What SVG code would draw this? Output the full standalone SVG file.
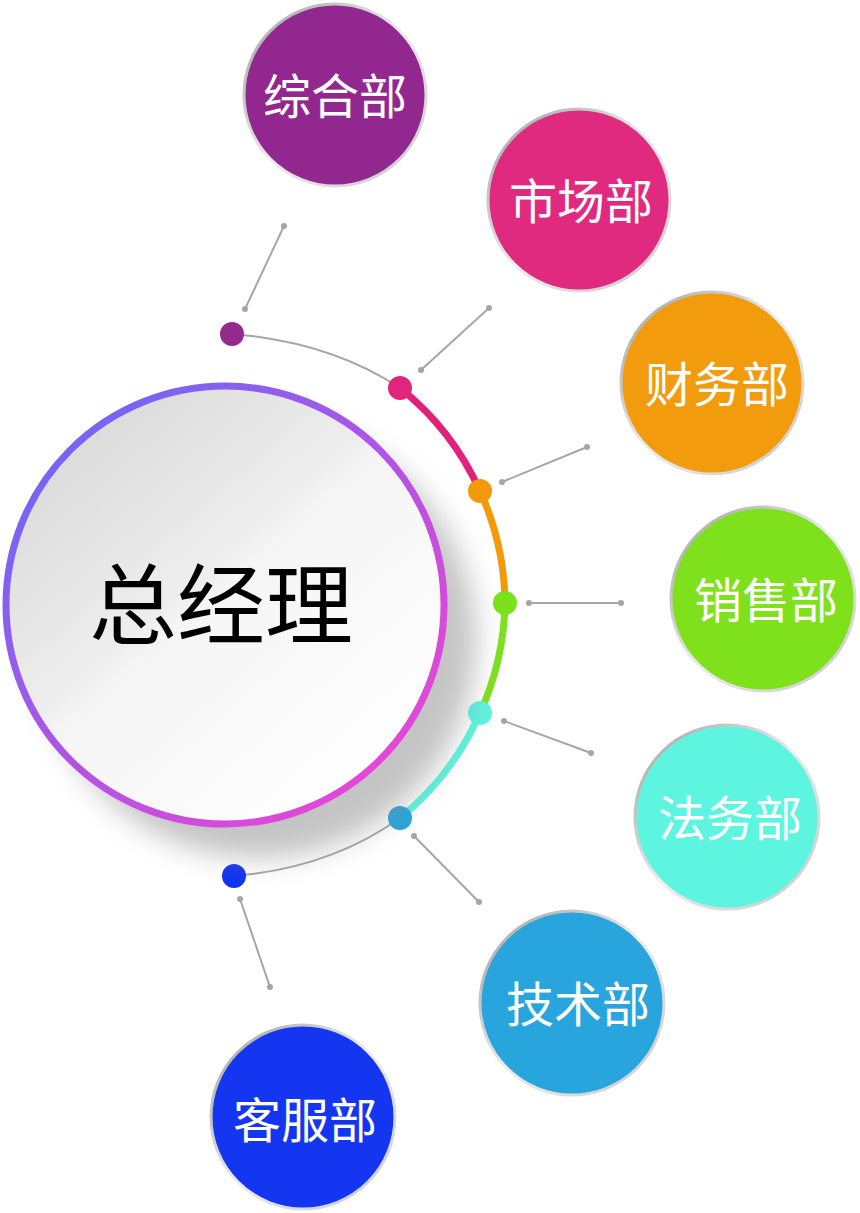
<svg xmlns="http://www.w3.org/2000/svg" width="860" height="1213" viewBox="0 0 860 1213">
<defs>
<linearGradient id="ring" x1="0" y1="0" x2="1" y2="1">
<stop offset="0" stop-color="#5f6cf8"/>
<stop offset="0.5" stop-color="#b054e6"/>
<stop offset="1" stop-color="#f842d2"/>
</linearGradient>
<linearGradient id="face" x1="0.1" y1="0.1" x2="0.8" y2="0.9">
<stop offset="0" stop-color="#d9d9d9"/>
<stop offset="0.45" stop-color="#eeeeee"/>
<stop offset="0.5" stop-color="#f5f5f5"/>
<stop offset="0.75" stop-color="#f9f9f9"/>
<stop offset="1" stop-color="#ffffff"/>
</linearGradient>
<linearGradient id="rim" x1="0" y1="0" x2="1" y2="1">
<stop offset="0" stop-color="#a0a0a0"/>
<stop offset="0.5" stop-color="#ececec"/>
<stop offset="1" stop-color="#c8c8c8"/>
</linearGradient>
<filter id="shadow" x="-30%" y="-30%" width="160%" height="160%">
<feGaussianBlur stdDeviation="14"/>
</filter>
</defs>
<style>
.conn{stroke:#a6a6a6;stroke-width:2;fill:none}
.end{fill:#a6a6a6}
.seg{fill:none;stroke-width:7;stroke-linecap:round}
.gray{fill:none;stroke:#a6a6a6;stroke-width:2}
.dept{stroke:url(#rim);stroke-width:3}
.dtext{font-family:"Noto Sans CJK SC","Noto Sans",sans-serif;font-size:48px;fill:#ffffff;text-anchor:middle}
.mtext{font-family:"Noto Sans CJK SC","Noto Sans",sans-serif;font-size:88px;fill:#000000;text-anchor:middle}
</style>
<rect width="860" height="1213" fill="#ffffff"/>

<g id="connectors">
<path class="gray" d="M232,334 Q330,342 400,388"/>
<path class="gray" d="M400,818 Q330,868 234,876"/>
<path class="seg" stroke="#e3217a" d="M400,388 A278,278 0 0 1 480,491"/>
<path class="seg" stroke="#f3990a" d="M480,491 A278,278 0 0 1 505,603"/>
<path class="seg" stroke="#7ce21c" d="M505,603 A278,278 0 0 1 480,713"/>
<path class="seg" stroke="#5ef5e0" d="M480,713 A278,278 0 0 1 400,818"/>
<line class="conn" x1="245" y1="309" x2="284" y2="226"/>
<circle class="end" cx="245" cy="309" r="3"/><circle class="end" cx="284" cy="226" r="3"/>
<line class="conn" x1="421" y1="370" x2="489" y2="308"/>
<circle class="end" cx="421" cy="370" r="3"/><circle class="end" cx="489" cy="308" r="3"/>
<line class="conn" x1="502" y1="482" x2="587" y2="447"/>
<circle class="end" cx="502" cy="482" r="3"/><circle class="end" cx="587" cy="447" r="3"/>
<line class="conn" x1="529" y1="603" x2="621" y2="603"/>
<circle class="end" cx="529" cy="603" r="3"/><circle class="end" cx="621" cy="603" r="3"/>
<line class="conn" x1="504" y1="721" x2="591" y2="753"/>
<circle class="end" cx="504" cy="721" r="3"/><circle class="end" cx="591" cy="753" r="3"/>
<line class="conn" x1="414" y1="836" x2="479" y2="902"/>
<circle class="end" cx="414" cy="836" r="3"/><circle class="end" cx="479" cy="902" r="3"/>
<line class="conn" x1="240" y1="899" x2="270" y2="987"/>
<circle class="end" cx="240" cy="899" r="3"/><circle class="end" cx="270" cy="987" r="3"/>
<circle cx="232" cy="334" r="12" fill="#932a8c"/>
<circle cx="400" cy="388" r="12" fill="#e0267b"/>
<circle cx="480" cy="491" r="12" fill="#f39a0c"/>
<circle cx="505" cy="603" r="12" fill="#7ae21a"/>
<circle cx="480" cy="713" r="12" fill="#5ef2e0"/>
<circle cx="400" cy="818" r="12" fill="#28a4dc"/>
<circle cx="234" cy="876" r="12" fill="#0f34f0"/>
</g>

<g id="main">
<circle cx="258" cy="640" r="218" fill="#8a8a8a" opacity="0.5" filter="url(#shadow)"/>
<circle cx="225" cy="605" r="219" fill="url(#face)" stroke="url(#ring)" stroke-width="7"/>
<text class="mtext" x="221" y="637">总经理</text>
</g>

<g id="zonghe">
<circle class="dept" cx="335" cy="95" r="91" fill="#932790"/>
<text class="dtext" x="335" y="114">综合部</text>
</g>
<g id="shichang">
<circle class="dept" cx="579" cy="200" r="91" fill="#df2a80"/>
<text class="dtext" x="581" y="219">市场部</text>
</g>
<g id="caiwu">
<circle class="dept" cx="712" cy="383" r="91" fill="#f29b0d"/>
<text class="dtext" x="717" y="402">财务部</text>
</g>
<g id="xiaoshou">
<circle class="dept" cx="763" cy="599" r="92" fill="#7fe11b"/>
<text class="dtext" x="766" y="618">销售部</text>
</g>
<g id="fawu">
<circle class="dept" cx="727" cy="817" r="92" fill="#5ef5e0"/>
<text class="dtext" x="730" y="836">法务部</text>
</g>
<g id="jishu">
<circle class="dept" cx="572" cy="1003" r="92" fill="#28a5dd"/>
<text class="dtext" x="578" y="1022">技术部</text>
</g>
<g id="kefu">
<circle class="dept" cx="303" cy="1117" r="92" fill="#1536f0"/>
<text class="dtext" x="305" y="1138">客服部</text>
</g>
</svg>
